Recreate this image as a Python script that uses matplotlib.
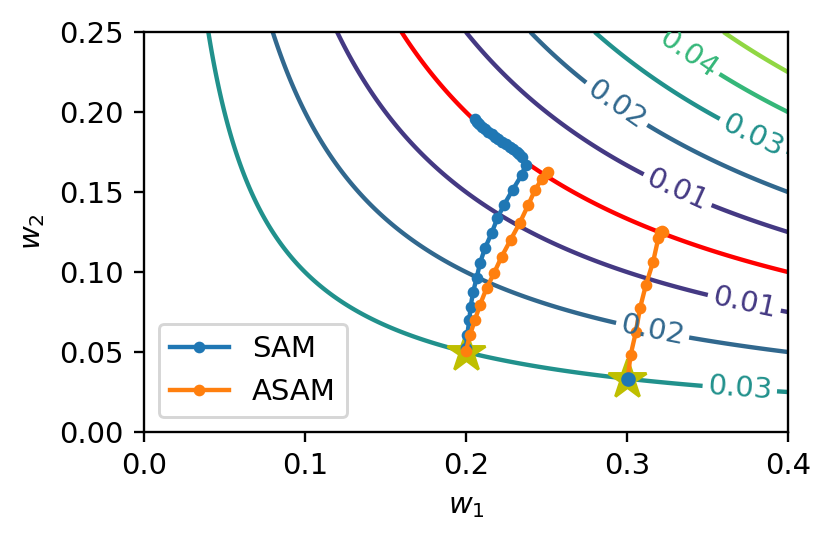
import numpy as np
import matplotlib
matplotlib.use('Agg')
import matplotlib.pyplot as plt

# loss surface: |w1 * w2 - 0.04|
TARGET = 0.04
LEVELS = [0.01, 0.02, 0.03, 0.04, 0.05]

# label positions (w1, w2) for the contour labels
label_pos = [
    (0.339, 0.2377),
    (0.3785, 0.1856),
    (0.2946, 0.2065),
    (0.3319, 0.1523),
    (0.3733, 0.0825),
    (0.3164, 0.0658),
    (0.3702, 0.0283),
]

# SAM trajectory from (0.2, 0.05)
sam_w1 = [0.2000, 0.2008, 0.2021, 0.2029, 0.2045, 0.2066, 0.2087, 0.2118, 0.2159,
          0.2195, 0.2236, 0.2290, 0.2346, 0.2371, 0.2346, 0.2330, 0.2315, 0.2295,
          0.2273, 0.2248, 0.2222, 0.2200, 0.2180, 0.2160, 0.2139, 0.2118, 0.2097,
          0.2080, 0.2066, 0.2056]
sam_w2 = [0.0523, 0.0606, 0.0700, 0.0783, 0.0877, 0.0960, 0.1054, 0.1148, 0.1242,
          0.1335, 0.1419, 0.1513, 0.1606, 0.1669, 0.1721, 0.1737, 0.1752, 0.1768,
          0.1783, 0.1799, 0.1815, 0.1830, 0.1846, 0.1861, 0.1877, 0.1892, 0.1908,
          0.1924, 0.1940, 0.1954]

# SAM from (0.3, 0.033) stays put
sam2_w1 = [0.3004]
sam2_w2 = [0.0331]

# ASAM trajectories
asam_w1 = [0.2000, 0.2025, 0.2056, 0.2087, 0.2128, 0.2174, 0.2222, 0.2277, 0.2335,
           0.2387, 0.2429, 0.2470, 0.2501, 0.2511]
asam_w2 = [0.0508, 0.0606, 0.0700, 0.0794, 0.0898, 0.0992, 0.1096, 0.1200, 0.1308,
           0.1419, 0.1513, 0.1579, 0.1617, 0.1627]

asam2_w1 = [0.3004, 0.3023, 0.3056, 0.3081, 0.3118, 0.3163, 0.3195, 0.3205, 0.3216, 0.3226]
asam2_w2 = [0.0331, 0.0481, 0.0627, 0.0773, 0.0919, 0.1065, 0.1211, 0.1252, 0.1258, 0.1250]

# starting points
start_w1 = [0.2, 0.3]
start_w2 = [0.05, 0.0333]

DPI = 210

w1, w2 = np.meshgrid(np.linspace(0.0, 0.4, 500), np.linspace(0.0, 0.25, 500))
loss = np.abs(w1 * w2 - TARGET)

fig = plt.figure(figsize=(832 / DPI, 540 / DPI), dpi=DPI)
ax = fig.add_axes([0.173, 0.2, 0.774, 0.7407])

cs = ax.contour(w1, w2, loss, levels=LEVELS, cmap='viridis', vmin=0.0, vmax=0.06)
ax.clabel(cs, fmt='%.2f', manual=label_pos, inline=True)
ax.contour(w1, w2, w1 * w2, levels=[TARGET], colors='r')

ax.plot(start_w1, start_w2, 'y*', markersize=14)
ax.plot(sam_w1, sam_w2, '.-', color='C0', label='SAM')
ax.plot(asam_w1, asam_w2, '.-', color='C1', label='ASAM')
ax.plot(asam2_w1, asam2_w2, '.-', color='C1')
ax.plot(sam2_w1, sam2_w2, '.-', color='C0', markersize=8)

ax.set_xlim(0.0, 0.4)
ax.set_ylim(0.0, 0.25)
ax.set_xticks([0.0, 0.1, 0.2, 0.3, 0.4])
ax.set_xlabel('$w_1$')
ax.set_ylabel('$w_2$')
ax.legend(loc='lower left')

fig.savefig('out.png', dpi=DPI)
plt.close('all')
